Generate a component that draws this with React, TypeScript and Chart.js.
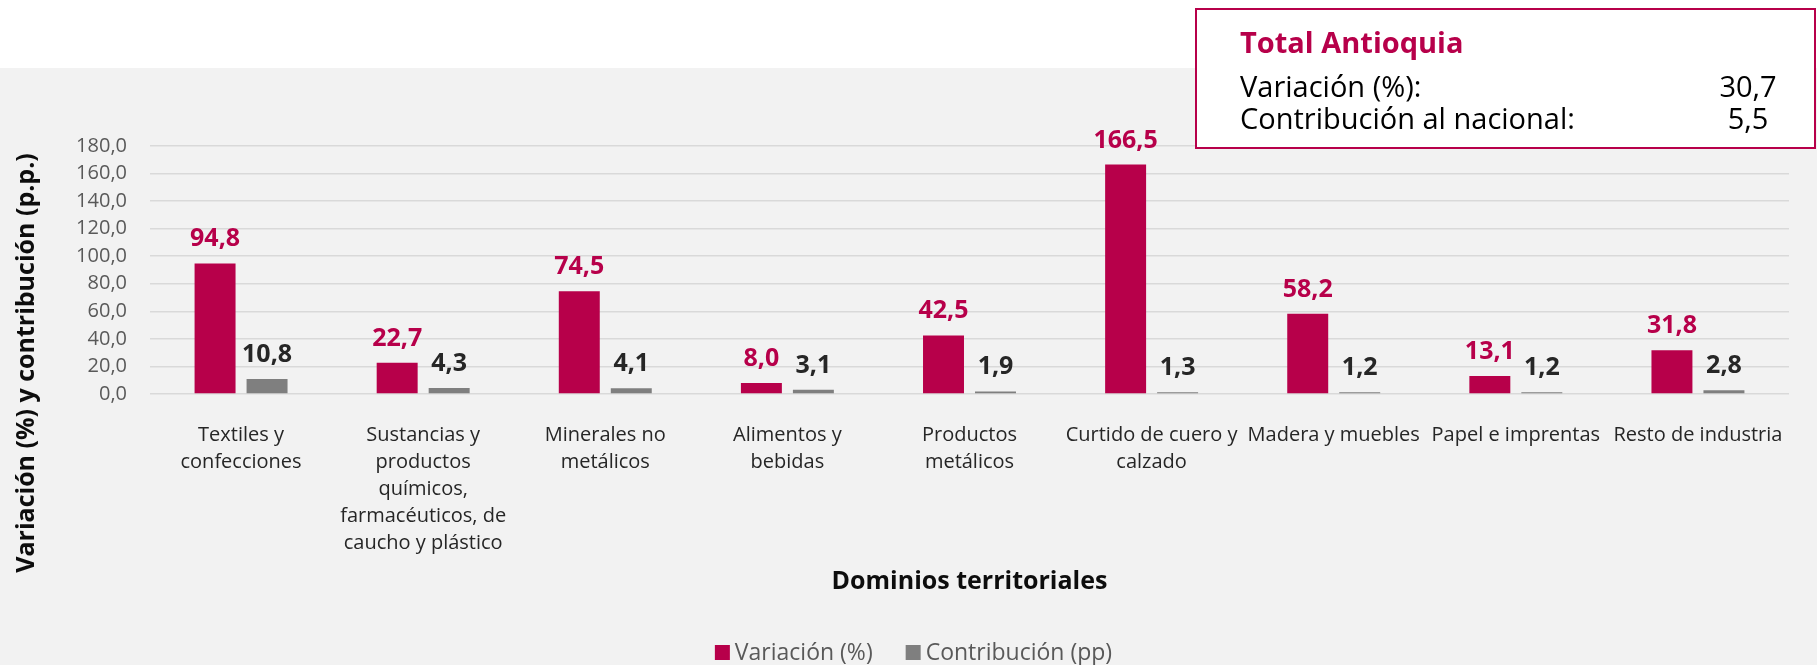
import React, { useEffect, useRef } from "react";
import { Chart, registerables } from "chart.js";

Chart.register(...registerables);

// ---- Data ----
const categories: string[][] = [
  ["Textiles y", "confecciones"],
  ["Sustancias y", "productos", "químicos,", "farmacéuticos, de", "caucho y plástico"],
  ["Minerales no", "metálicos"],
  ["Alimentos y", "bebidas"],
  ["Productos", "metálicos"],
  ["Curtido de cuero y", "calzado"],
  ["Madera y muebles"],
  ["Papel e imprentas"],
  ["Resto de industria"],
];
const variacion = [94.8, 22.7, 74.5, 8.0, 42.5, 166.5, 58.2, 13.1, 31.8];
const contribucion = [10.8, 4.3, 4.1, 3.1, 1.9, 1.3, 1.2, 1.2, 2.8];
const seriesLabels = ["Variación (%)", "Contribución (pp)"];
const yMin = 0;
const yMax = 180;
const yStep = 20;
const xTitle = "Dominios territoriales";
const yTitle = "Variación (%) y contribución (p.p.)";
const totalTitle = "Total Antioquia";
const totalLabels = ["Variación (%):", "Contribución al nacional:"];
const totalValues = [30.7, 5.5];

// ---- Styles ----
const FONT = "'Open Sans', sans-serif";
const CRIMSON = "#B7004A";
const GREY = "#7F7F7F";
const W = 1817;
const H = 665;

const fmt = (v: number) => v.toFixed(1).replace(".", ",");

const decorPlugin = {
  id: "decor",
  beforeDraw(chart: any) {
    const ctx = chart.ctx;
    ctx.save();
    ctx.fillStyle = "#ffffff";
    ctx.fillRect(0, 0, W, H);
    ctx.fillStyle = "#f2f2f2";
    ctx.fillRect(0, 68, W, H - 68);
    ctx.restore();
  },
  afterDatasetsDraw(chart: any) {
    const ctx = chart.ctx;
    ctx.save();
    ctx.font = `bold 25px ${FONT}`;
    ctx.textAlign = "center";
    ctx.textBaseline = "alphabetic";
    chart.data.datasets.forEach((ds: any, i: number) => {
      const meta = chart.getDatasetMeta(i);
      ctx.fillStyle = i === 0 ? CRIMSON : "#262626";
      meta.data.forEach((el: any, j: number) => {
        ctx.fillText(fmt(ds.data[j]), el.x, el.y - 17);
      });
    });
    ctx.restore();
  },
  afterDraw(chart: any) {
    const ctx = chart.ctx;
    const area = chart.chartArea;
    ctx.save();
    // y axis title
    ctx.save();
    ctx.translate(33.5, 363);
    ctx.rotate(-Math.PI / 2);
    ctx.font = `bold 25px ${FONT}`;
    ctx.fillStyle = "#0d0d0d";
    ctx.textAlign = "center";
    ctx.textBaseline = "alphabetic";
    ctx.fillText(yTitle, 0, 0);
    ctx.restore();

    // x axis title
    ctx.font = `bold 25px ${FONT}`;
    ctx.fillStyle = "#0d0d0d";
    ctx.textAlign = "center";
    ctx.textBaseline = "alphabetic";
    ctx.fillText(xTitle, (area.left + area.right) / 2, 589);

    // legend
    ctx.font = `23px ${FONT}`;
    const colors = chart.data.datasets.map((d: any) => d.backgroundColor);
    const widths = seriesLabels.map((t) => ctx.measureText(t).width);
    const gap = 33;
    const total = widths.reduce((a, w) => a + 20 + w, 0) + gap * (widths.length - 1);
    let lx = 913.5 - total / 2;
    ctx.textAlign = "left";
    seriesLabels.forEach((t, i) => {
      ctx.fillStyle = colors[i];
      ctx.fillRect(lx, 645, 15, 15);
      ctx.fillStyle = "#595959";
      ctx.fillText(t, lx + 20, 660);
      lx += 20 + widths[i] + gap;
    });

    // total box
    ctx.fillStyle = "#ffffff";
    ctx.fillRect(1196, 9, 619, 139);
    ctx.strokeStyle = CRIMSON;
    ctx.lineWidth = 2;
    ctx.strokeRect(1196, 9, 619, 139);
    ctx.font = `bold 29px ${FONT}`;
    ctx.fillStyle = CRIMSON;
    ctx.textAlign = "left";
    ctx.fillText(totalTitle, 1240, 53);
    ctx.font = `29px ${FONT}`;
    ctx.fillStyle = "#000000";
    const baselines = [97, 129];
    totalLabels.forEach((t, i) => {
      ctx.textAlign = "left";
      ctx.fillText(t, 1240, baselines[i]);
      ctx.textAlign = "center";
      ctx.fillText(fmt(totalValues[i]), 1748, baselines[i]);
    });
    ctx.restore();
  },
};

export default function App() {
  const ref = useRef<HTMLCanvasElement | null>(null);

  useEffect(() => {
    if (!ref.current) return;
    Chart.defaults.font.family = FONT;
    const chart = new Chart(ref.current, {
      type: "bar",
      data: {
        labels: categories,
        datasets: [
          {
            label: seriesLabels[0],
            data: variacion,
            backgroundColor: CRIMSON,
            categoryPercentage: 0.571,
            barPercentage: 0.788,
          },
          {
            label: seriesLabels[1],
            data: contribucion,
            backgroundColor: GREY,
            categoryPercentage: 0.571,
            barPercentage: 0.788,
          },
        ],
      },
      options: {
        animation: false,
        responsive: false,
        events: [],
        layout: { padding: { left: 0, right: 28, top: 146, bottom: 0 } },
        plugins: {
          legend: { display: false },
          tooltip: { enabled: false },
          title: { display: false },
        },
        scales: {
          x: {
            grid: { display: false },
            border: { display: false },
            ticks: {
              color: "#262626",
              font: { family: FONT, size: 20, lineHeight: 1.35 },
              padding: 20,
              maxRotation: 0,
              minRotation: 0,
              autoSkip: false,
            },
            afterFit(scale: any) {
              scale.height = 271;
            },
          },
          y: {
            min: yMin,
            max: yMax,
            grid: { color: "#d9d9d9", lineWidth: 1.5, drawTicks: false },
            border: { display: false },
            ticks: {
              stepSize: yStep,
              color: "#595959",
              font: { family: FONT, size: 20 },
              padding: 23,
              callback: (v: any) => fmt(Number(v)),
            },
            afterFit(scale: any) {
              scale.width = 150;
            },
          },
        },
      },
      plugins: [decorPlugin],
    });
    return () => chart.destroy();
  }, []);

  return (
    <div style={{ position: "absolute", left: 0, top: 0, width: W, height: H }}>
      <canvas ref={ref} width={W} height={H} style={{ display: "block", width: W, height: H }} />
    </div>
  );
}
